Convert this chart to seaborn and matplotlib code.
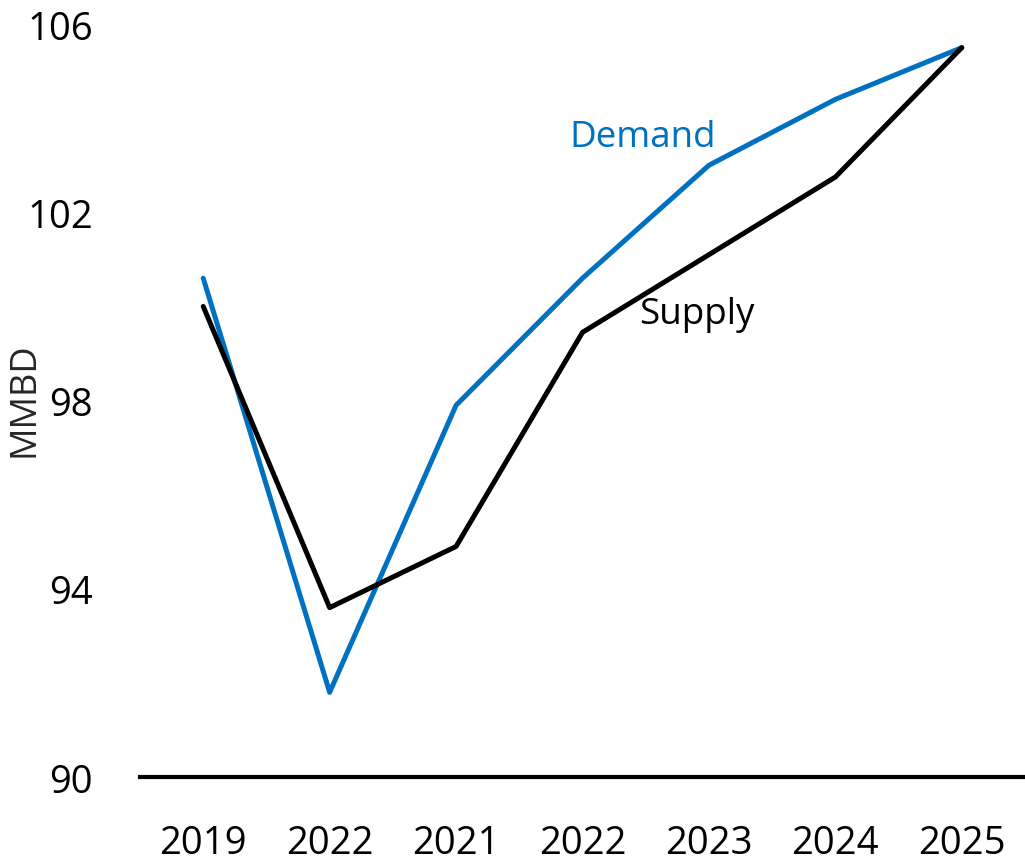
import pandas as pd
import numpy as np
import matplotlib
matplotlib.use("Agg")
import matplotlib.pyplot as plt
import seaborn as sns

years = ['2019', '2022', '2021', '2022', '2023', '2024', '2025']
demand = [100.6, 91.8, 97.9, 100.6, 103.0, 104.4, 105.5]
supply = [100.0, 93.6, 94.9, 99.45, 101.1, 102.75, 105.5]
yticks = [90, 94, 98, 102, 106]

sns.set_style("white")
plt.rcParams['font.family'] = ['Open Sans', 'DejaVu Sans']

df = pd.DataFrame({
    'pos': list(range(len(years))) * 2,
    'value': demand + supply,
    'series': ['Demand'] * len(years) + ['Supply'] * len(years),
})

fig = plt.figure(figsize=(10.25, 8.62), dpi=100)
ax = fig.add_axes([0.1366, 0.0974, 0.8634, 0.8735])

sns.lineplot(data=df, x='pos', y='value', hue='series',
             palette={'Demand': '#0070C0', 'Supply': '#000000'},
             linewidth=3.6, legend=False, ax=ax, clip_on=False)

ax.set_xlim(-0.5, 6.5)
ax.set_ylim(90, 106)
ax.set_xticks(range(len(years)))
ax.set_xticklabels(years)
ax.set_yticks(yticks)
ax.tick_params(axis='both', labelsize=27.5, length=0, colors='black')
ax.tick_params(axis='x', pad=34)
ax.tick_params(axis='y', pad=34)
ax.set_xlabel('')
ax.set_ylabel('')

for s in ['left', 'right', 'top']:
    ax.spines[s].set_visible(False)
ax.spines['bottom'].set_linewidth(3)
ax.spines['bottom'].set_color('black')

fig.text(0.006, 0.536, 'MMBD', rotation=90, fontsize=26,
         ha='left', va='center')

ax.text(2.9, 103.4, 'Demand', color='#0070C0', fontsize=26.5)
ax.text(3.45, 99.65, 'Supply', color='black', fontsize=26.5)

fig.savefig('out.png', dpi=100)
